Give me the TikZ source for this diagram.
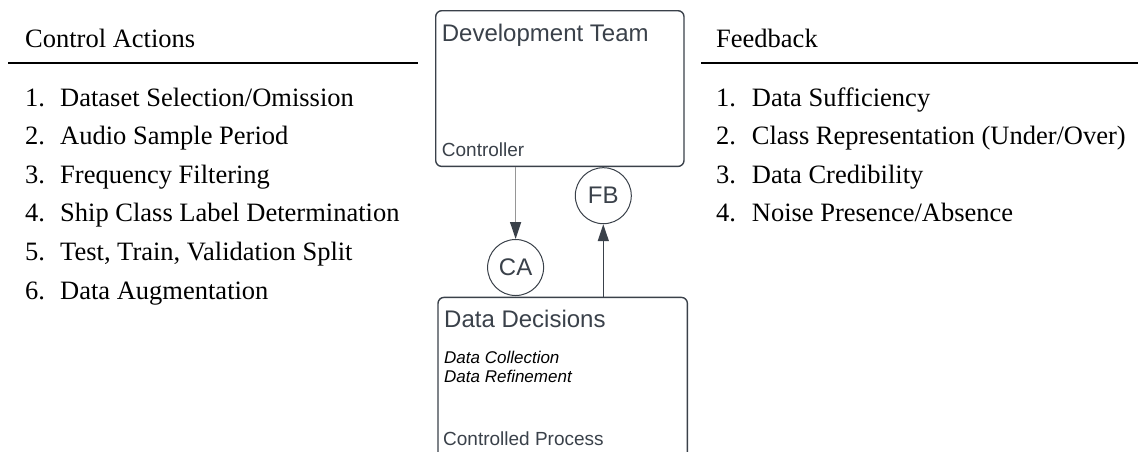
\documentclass[tikz,border=0pt]{standalone}
\usepackage{fontspec}
\setmainfont{Liberation Serif}
\setsansfont{Liberation Sans}
\usetikzlibrary{arrows.meta}

\definecolor{ink}{RGB}{58,65,74}
\definecolor{wire}{RGB}{150,150,150}

\begin{document}
\begin{tikzpicture}[x=1pt,y=-1pt,
  listtext/.style={anchor=base west, inner sep=0pt, font=\fontsize{26.5}{30}\selectfont},
  rule/.style={line width=1.4pt, black},
  panel/.style={draw=ink, line width=1.4pt, rounded corners=6pt, fill=white, anchor=north west, inner sep=0pt},
  title/.style={anchor=base west, inner sep=0pt, text=ink, font=\sffamily\fontsize{24}{28}\selectfont},
  role/.style={anchor=base west, inner sep=0pt, text=ink, font=\sffamily\fontsize{19}{23}\selectfont},
  detail/.style={anchor=base west, inner sep=0pt, text=black, font=\sffamily\itshape\fontsize{17}{20}\selectfont},
  tag/.style={circle, draw=ink, line width=1pt, minimum size=56pt, inner sep=0pt, text=ink, font=\sffamily\fontsize{24}{28}\selectfont},
  tip/.style={-{Triangle[length=17pt,width=11pt,color=ink]}},
]
\useasboundingbox (0,0) rectangle (1138,451);
\clip (0,0) rectangle (1138,451);

% ---- left column: control actions
\node[listtext] (cahead) at (25,47.5) {Control Actions};
\draw[rule] (8,63) -- (418,63);
\foreach \n/\t [count=\i from 0] in {1/{Dataset Selection/Omission},
    2/{Audio Sample Period},
    3/{Frequency Filtering},
    4/{Ship Class Label Determination},
    5/{Test, Train, Validation Split},
    6/{Data Augmentation}}{
  \node[listtext] (canum\n) at (25,{106+38.6*\i}) {\n.};
  \node[listtext] (caitem\n) at (60,{106+38.6*\i}) {\t};
}

% ---- right column: feedback
\node[listtext] (fbhead) at (716,47.5) {Feedback};
\draw[rule] (701,63) -- (1138,63);
\foreach \n/\t [count=\i from 0] in {1/{Data Sufficiency},
    2/{Class Representation (Under/Over)},
    3/{Data Credibility},
    4/{Noise Presence/Absence}}{
  \node[listtext] (fbnum\n) at (716,{106+38.6*\i}) {\n.};
  \node[listtext] (fbitem\n) at (751.7,{106+38.6*\i}) {\t};
}

% ---- controller
\node[panel, minimum width=248.3pt, minimum height=155.7pt] (dev) at (435,10) {};
\node[title] (devtitle) at (441.7,41.5) {Development Team};
\node[role] (devrole) at (441.7,156.7) {Controller};

% ---- controlled process
\node[panel, minimum width=249.4pt, minimum height=165pt] (dd) at (437.3,296.7) {};
\node[title] (ddtitle) at (444,327.5) {Data Decisions};
\node[detail] (dd1) at (444,363.3) {Data Collection};
\node[detail] (dd2) at (444,382.7) {Data Refinement};
\node[role] (ddrole) at (443,445) {Controlled Process};

% ---- control action / feedback markers
\node[tag] (ca) at (515.6,267.5) {CA};
\node[tag] (fb) at (603.3,195.7) {FB};

\draw[wire, line width=1.4pt, tip] (ca.north |- dev.south) -- (ca.north);
\draw[ink, line width=1.4pt, tip] (fb.south |- dd.north) -- (fb.south);
\end{tikzpicture}
\end{document}
